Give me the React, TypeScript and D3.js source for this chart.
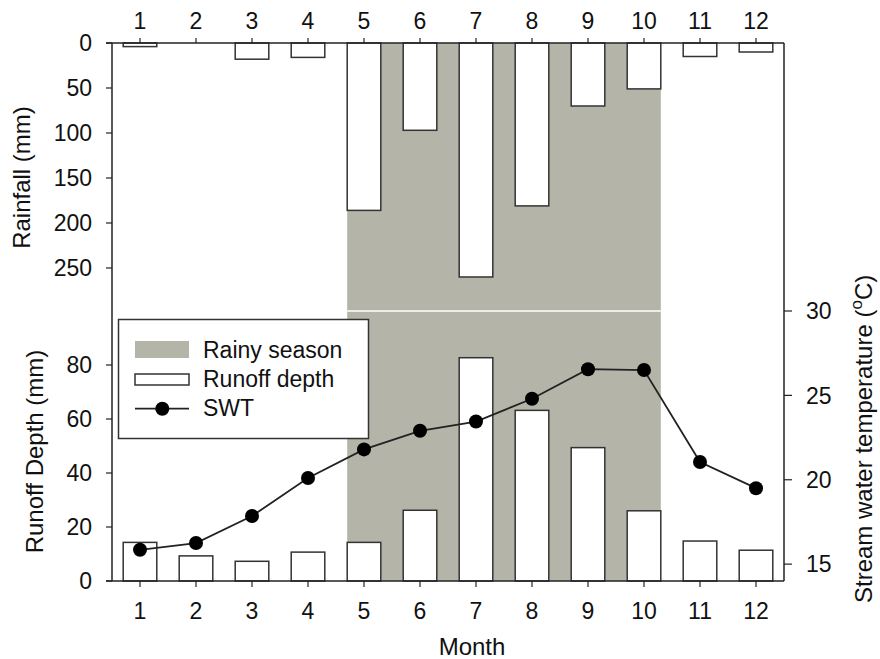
import React from "react";
import * as d3 from "d3";

const months = [1, 2, 3, 4, 5, 6, 7, 8, 9, 10, 11, 12];
const rainfall = [4, 0, 18, 16, 186, 97, 260, 181, 70, 51, 15, 10];
const runoff = [14.3, 9.3, 7.3, 10.7, 14.3, 26.2, 82.7, 63.2, 49.4, 26, 14.8, 11.4];
const swt = [15.85, 16.25, 17.85, 20.1, 21.8, 22.9, 23.45, 24.8, 26.55, 26.5, 21.05, 19.5];
const rainTicks = [0, 50, 100, 150, 200, 250];
const runoffTicks = [0, 20, 40, 60, 80];
const swtTicks = [15, 20, 25, 30];
const rainyStart = 5;
const rainyEnd = 10;

const W = 880;
const H = 659;
const left = 112;
const right = 784;
const top = 43;
const mid = 311;
const bottom = 581;
const FONT = "'Liberation Sans', Arial, sans-serif";
const FS = 23;
const FT = 24;
const FL = 23;
const SHADE = "#b5b4a9";
const INK = "#222";

export default function App() {
  const x = d3.scaleLinear().domain([0.5, 12.5]).range([left, right]);
  const yRain = d3.scaleLinear().domain([0, 297.8]).range([top, mid]);
  const yRun = d3.scaleLinear().domain([0, 100]).range([bottom, mid]);
  const yT = d3.scaleLinear().domain([14, 30]).range([bottom, mid]);
  const bw = (x(2) - x(1)) * 0.6;
  const line = d3
    .line<number>()
    .x((_, i) => x(months[i]))
    .y((d) => yT(d));

  const shadeX0 = x(rainyStart) - bw / 2;
  const shadeX1 = x(rainyEnd) + bw / 2;

  return (
    <svg width={W} height={H} style={{ position: "absolute", left: 0, top: 0, background: "#fff" }} fontFamily={FONT}>
      <rect x={0} y={0} width={W} height={H} fill="#fff" />
      {/* rainy season shading */}
      <rect x={shadeX0} y={top} width={shadeX1 - shadeX0} height={bottom - top} fill={SHADE} />
      <line x1={shadeX0} x2={shadeX1} y1={mid} y2={mid} stroke="#fff" strokeWidth={1.5} />

      {/* rainfall bars (hanging) */}
      {months.map((m, i) =>
        rainfall[i] > 0 ? (
          <rect
            key={"r" + m}
            x={x(m) - bw / 2}
            y={yRain(0)}
            width={bw}
            height={yRain(rainfall[i]) - yRain(0)}
            fill="#fff"
            stroke="#333"
            strokeWidth={1.5}
          />
        ) : null
      )}

      {/* runoff bars */}
      {months.map((m, i) => (
        <rect
          key={"q" + m}
          x={x(m) - bw / 2}
          y={yRun(runoff[i])}
          width={bw}
          height={yRun(0) - yRun(runoff[i])}
          fill="#fff"
          stroke="#333"
          strokeWidth={1.5}
        />
      ))}

      {/* SWT line */}
      <path d={line(swt) || ""} fill="none" stroke={INK} strokeWidth={1.8} />
      {months.map((m, i) => (
        <circle key={"c" + m} cx={x(m)} cy={yT(swt[i])} r={7} fill="#000" />
      ))}

      {/* frame axes */}
      <line x1={left} x2={left} y1={top} y2={bottom} stroke={INK} strokeWidth={1.5} />
      <line x1={right} x2={right} y1={top} y2={bottom} stroke={INK} strokeWidth={1.5} />
      <line x1={left - 6} x2={right} y1={top} y2={top} stroke={INK} strokeWidth={1.5} />
      <line x1={left - 6} x2={right} y1={bottom} y2={bottom} stroke={INK} strokeWidth={1.5} />

      {/* top month axis */}
      {months.map((m) => (
        <g key={"tt" + m}>
          <line x1={x(m)} x2={x(m)} y1={top} y2={top - 5} stroke={INK} strokeWidth={1.2} />
          <text x={x(m)} y={28.5} textAnchor="middle" fontSize={FS} fill="#111">
            {m}
          </text>
        </g>
      ))}
      {/* bottom month axis */}
      {months.map((m) => (
        <g key={"bt" + m}>
          <line x1={x(m)} x2={x(m)} y1={bottom} y2={bottom + 6} stroke={INK} strokeWidth={1.2} />
          <text x={x(m)} y={618.5} textAnchor="middle" fontSize={FS} fill="#111">
            {m}
          </text>
        </g>
      ))}

      {/* rainfall axis */}
      {rainTicks.map((t) => (
        <g key={"ra" + t}>
          <line x1={left - 6} x2={left} y1={yRain(t)} y2={yRain(t)} stroke={INK} strokeWidth={1.2} />
          <text x={92} y={yRain(t) + 8.3} textAnchor="end" fontSize={FS} fill="#111">
            {t}
          </text>
        </g>
      ))}
      {/* runoff axis */}
      {runoffTicks.map((t) => (
        <g key={"qa" + t}>
          <line x1={left - 6} x2={left} y1={yRun(t)} y2={yRun(t)} stroke={INK} strokeWidth={1.2} />
          <text x={92} y={yRun(t) + 8.3} textAnchor="end" fontSize={FS} fill="#111">
            {t}
          </text>
        </g>
      ))}
      {/* SWT axis */}
      {swtTicks.map((t) => (
        <g key={"ta" + t}>
          <line x1={right} x2={right + 8} y1={yT(t)} y2={yT(t)} stroke={INK} strokeWidth={1.2} />
          <text x={806} y={yT(t) + 8.3} textAnchor="start" fontSize={FS} fill="#111">
            {t}
          </text>
        </g>
      ))}

      {/* axis titles */}
      <text transform="translate(30,177.5) rotate(-90)" textAnchor="middle" fontSize={FT} fill="#111">
        Rainfall (mm)
      </text>
      <text transform="translate(43,451.5) rotate(-90)" textAnchor="middle" fontSize={FT} fill="#111">
        Runoff Depth (mm)
      </text>
      <text x={472} y={655} textAnchor="middle" fontSize={FT} fill="#111">
        Month
      </text>
      <text transform="translate(872,603) rotate(-90)" textAnchor="start" fontSize={FT} fill="#111">
        Stream water temperature (
        <tspan dy={-10} fontSize={17}>o</tspan>
        <tspan dy={10}>C)</tspan>
      </text>

      {/* legend */}
      <rect x={118.5} y={319.5} width={250} height={119} fill="#fff" stroke="#333" strokeWidth={1.5} />
      <rect x={135} y={341} width={54} height={17} fill={SHADE} />
      <text x={203} y={357.5} fontSize={FL} fill="#111">
        Rainy season
      </text>
      <rect x={135} y={374} width={54} height={11} fill="#fff" stroke="#333" strokeWidth={1.5} />
      <text x={203} y={386.5} fontSize={FL} fill="#111">
        Runoff depth
      </text>
      <line x1={135} x2={189} y1={408.7} y2={408.7} stroke={INK} strokeWidth={1.8} />
      <circle cx={162.3} cy={408.7} r={7} fill="#000" />
      <text x={203} y={416} fontSize={FL} fill="#111">
        SWT
      </text>
    </svg>
  );
}
